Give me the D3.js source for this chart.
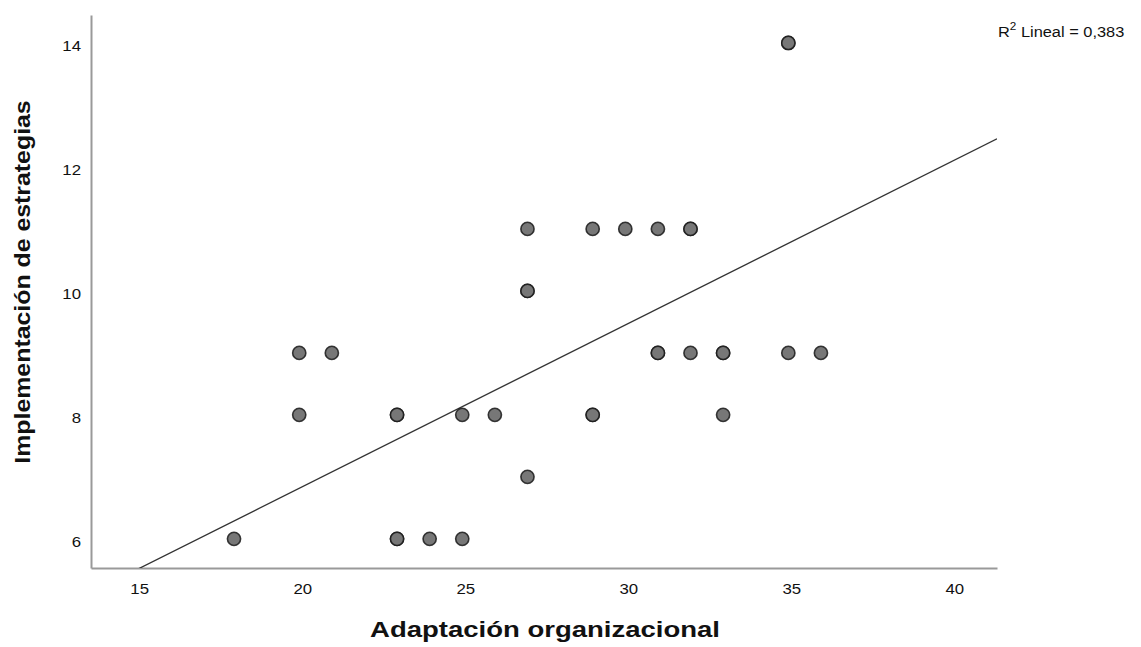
<!DOCTYPE html>
<html>
<head>
<meta charset="utf-8">
<script src="https://cdn.jsdelivr.net/npm/d3@7"></script>
<style>
  body { margin: 0; background: #fff; }
  svg { display: block; font-family: "Liberation Sans", Arial, sans-serif; }
</style>
</head>
<body>
<div id="chart"></div>
<script>
// data (repeated pairs = overlapping cases)
const adaptacion = [18, 20, 20, 21, 23, 23, 23, 23, 24, 25, 25, 26, 27, 27, 27, 27, 29, 29, 29, 30, 31, 31, 31, 32, 32, 32, 33, 33, 33, 35, 35, 35, 36];
const implementacion = [6, 9, 8, 9, 8, 8, 6, 6, 6, 6, 8, 8, 11, 10, 10, 7, 11, 8, 8, 11, 11, 9, 9, 11, 11, 9, 9, 9, 8, 14, 14, 9, 9];
const xTicks = [15, 20, 25, 30, 35, 40];
const yTicks = [6, 8, 10, 12, 14];
const FIT = { intercept: 1.548, slope: 0.2634 };
const R2_LABEL = '0,383';

const WIDTH = 1141;
const HEIGHT = 647;
const MARGIN = { left: 91, right: 144, top: 15, bottom: 79 };

const points = adaptacion.map((x, i) => ({ x: x, y: implementacion[i] }));

// the reference font is drawn a bit wider than Liberation Sans
function stretch(sel, factor) {
    sel.each(function () {
        const len = this.getComputedTextLength();
        d3.select(this)
            .attr('textLength', len * factor)
            .attr('lengthAdjust', 'spacingAndGlyphs');
    });
}

const svg = d3.select('#chart')
    .append('svg')
    .attr('width', WIDTH)
    .attr('height', HEIGHT);

const x = d3.scaleLinear()
    .domain([13.614, 41.40])
    .range([MARGIN.left, WIDTH - MARGIN.right]);

const y = d3.scaleLinear()
    .domain([5.53, 14.45])
    .range([HEIGHT - MARGIN.bottom, MARGIN.top]);

// axes, no tick marks
const xAxis = svg.append('g')
    .attr('transform', `translate(0,${HEIGHT - MARGIN.bottom})`)
    .call(d3.axisBottom(x).tickValues(xTicks).tickSize(0).tickPadding(15));
const yAxis = svg.append('g')
    .attr('transform', `translate(${MARGIN.left},0)`)
    .call(d3.axisLeft(y).tickValues(yTicks).tickSize(0).tickPadding(10));

[xAxis, yAxis].forEach(g => {
    g.select('.domain').attr('stroke', '#999').attr('stroke-width', 2);
    g.selectAll('text')
        .attr('fill', '#111')
        .style('font-size', '15px')
        .style('font-family', '"Liberation Sans", Arial, sans-serif');
});
xAxis.selectAll('text').attr('x', 3);
yAxis.selectAll('text').attr('y', 3);
stretch(xAxis.selectAll('text'), 1.12);
stretch(yAxis.selectAll('text'), 1.12);

// fit line clipped to the plot
svg.append('clipPath').attr('id', 'plot-clip')
    .append('rect')
    .attr('x', MARGIN.left)
    .attr('y', MARGIN.top)
    .attr('width', WIDTH - MARGIN.left - MARGIN.right)
    .attr('height', HEIGHT - MARGIN.top - MARGIN.bottom);

const fitX = x.domain();
svg.append('line')
    .attr('clip-path', 'url(#plot-clip)')
    .attr('x1', x(fitX[0]))
    .attr('y1', y(FIT.intercept + FIT.slope * fitX[0]))
    .attr('x2', x(fitX[1]))
    .attr('y2', y(FIT.intercept + FIT.slope * fitX[1]))
    .attr('stroke', '#333')
    .attr('stroke-width', 1.3);

svg.append('g')
    .selectAll('circle')
    .data(points)
    .join('circle')
    .attr('cx', d => x(d.x))
    .attr('cy', d => y(d.y))
    .attr('r', 6.6)
    .attr('fill', '#777')
    .attr('stroke', '#1a1a1a')
    .attr('stroke-opacity', 0.85)
    .attr('stroke-width', 1.6);

// R² label
const r2 = svg.append('text')
    .attr('x', 998)
    .attr('y', 37)
    .attr('fill', '#111')
    .style('font-size', '14px');
r2.append('tspan').text('R');
r2.append('tspan').attr('dy', -7).style('font-size', '10px').text('2');
r2.append('tspan').attr('dy', 7).text(' Lineal = ' + R2_LABEL);
stretch(r2, 1.17);

const xTitle = svg.append('text')
    .attr('x', 545)
    .attr('y', 637)
    .attr('text-anchor', 'middle')
    .attr('fill', '#111')
    .style('font-size', '22px')
    .style('font-weight', 'bold')
    .text('Adaptación organizacional');
stretch(xTitle, 1.25);

const yTitle = svg.append('text')
    .attr('transform', 'rotate(-90)')
    .attr('x', -282)
    .attr('y', 30)
    .attr('text-anchor', 'middle')
    .attr('fill', '#111')
    .style('font-size', '22px')
    .style('font-weight', 'bold')
    .text('Implementación de estrategias');
stretch(yTitle, 1.13);
</script>
</body>
</html>
